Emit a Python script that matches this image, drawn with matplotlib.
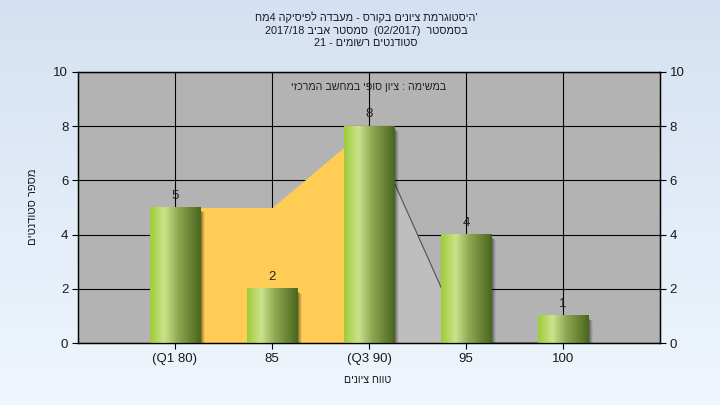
import re
import numpy as np
import matplotlib
matplotlib.use('Agg')
import matplotlib.pyplot as plt
from matplotlib.colors import LinearSegmentedColormap
from matplotlib.patches import Rectangle

# ---------------- data ----------------
categories = ['(Q1 80)', '85', '(Q3 90)', '95', '100']
counts = [5, 2, 8, 4, 1]
area_values = [5, 5, 8, 0, 0]          # background area series
iqr_end = 2                             # Q1..Q3 part drawn in yellow
yticks = [0, 2, 4, 6, 8, 10]
title_lines = [
    "'היסטוגרמת ציונים בקורס - מעבדה לפיסיקה 4מח",
    "בסמסטר  (02/2017)  סמסטר אביב 2017/18",
    "סטודנטים רשומים - 21",
]
note_text = "במשימה : ציון סופי במחשב המרכזי"
xlabel_text = "טווח ציונים"
ylabel_text = "מספר סטודנטים"

FAM = ['Liberation Sans', 'DejaVu Sans']
plt.rcParams['font.family'] = FAM

LTR_RUN = re.compile(r'[A-Za-z0-9]+(?:[/.:,][A-Za-z0-9]+)*')
MIRROR = {'(': ')', ')': '(', '[': ']', ']': '['}


def to_visual(s):
    """Very small bidi: RTL paragraph, keep LTR runs (numbers) intact."""
    tokens, pos = [], 0
    for m in LTR_RUN.finditer(s):
        tokens.extend(s[pos:m.start()])
        tokens.append(m.group())
        pos = m.end()
    tokens.extend(s[pos:])
    return ''.join(MIRROR.get(t, t) if len(t) == 1 else t for t in reversed(tokens))


W, H = 720, 405
fig = plt.figure(figsize=(W / 100, H / 100), dpi=100)

# background gradient
bg = fig.add_axes([0, 0, 1, 1], zorder=-10)
top_c = np.array([0.835, 0.882, 0.949])
bot_c = np.array([0.937, 0.965, 0.992])
t = np.linspace(0, 1, 256)[:, None]
grad = top_c[None, :] * (1 - t) + bot_c[None, :] * t
bg.imshow(grad[:, None, :].repeat(2, axis=1), aspect='auto', extent=[0, 1, 0, 1])
bg.set_axis_off()

L, R, T, B = 78, 660, 72, 343
ax = fig.add_axes([L / W, 1 - B / H, (R - L) / W, (B - T) / H])
ax.set_facecolor('#b3b3b3')
x = np.arange(len(categories))

# area series
ax.fill_between(x[:iqr_end + 1], area_values[:iqr_end + 1], 0,
                color='#ffcc55', lw=0, zorder=1)
ax.fill_between(x[iqr_end:], area_values[iqr_end:], 0,
                color='#bebebe', lw=0, zorder=1)
ax.plot(x[iqr_end:], area_values[iqr_end:], color='#505050', lw=0.8, zorder=1.1)

# bars: cylinder gradient + shadow
bw = 0.52
cmap = LinearSegmentedColormap.from_list('cyl', [
    (0.0, (0.62, 0.80, 0.22)),
    (0.28, (0.80, 0.89, 0.55)),
    (0.55, (0.56, 0.66, 0.32)),
    (1.0, (0.29, 0.40, 0.11)),
])
px_x = 6.0 / (R - L)
px_y = 10.0 / (B - T)
for xi, h in zip(x, counts):
    for k, a in enumerate([0.22, 0.18, 0.14, 0.10, 0.06]):
        off = (k + 1)
        ax.add_patch(Rectangle((xi - bw / 2 + off * px_x, -off * px_y * 0.6),
                               bw, h - 2 * px_y, color='black', alpha=a,
                               lw=0, zorder=2))
    ax.imshow(np.linspace(0, 1, 128)[None, :], cmap=cmap, aspect='auto',
              extent=[xi - bw / 2, xi + bw / 2, 0, h], interpolation='bilinear',
              zorder=3)
    ax.text(xi, h + 0.44, str(h), ha='center', va='center', fontsize=9.5,
            color='#222222', zorder=4)

ax.text(2, 9.46, to_visual(note_text), ha='center', va='center', fontsize=7.7,
        color='#222222', zorder=4)

ax.set_xlim(-1, 5)
ax.set_ylim(0, 10)
ax.set_xticks(x)
ax.set_xticklabels(categories)
ax.set_yticks(yticks)
ax.set_axisbelow(True)
ax.grid(True, color='black', lw=0.8)
for sp in ax.spines.values():
    sp.set_color('black')
    sp.set_linewidth(0.9)
ax.tick_params(direction='out', length=4, width=0.8, labelsize=9.5,
               labelcolor='#1a1a1a', pad=3)

ax2 = ax.twinx()
ax2.set_ylim(0, 10)
ax2.set_yticks(yticks)
ax2.tick_params(direction='out', length=4, width=0.8, labelsize=9.5,
                labelcolor='#1a1a1a', pad=3)
for sp in ax2.spines.values():
    sp.set_color('black')
    sp.set_linewidth(0.9)

# titles and axis labels
for yy, line in zip([17.5, 30.5, 43], title_lines):
    fig.text(366 / W, 1 - yy / H, to_visual(line), ha='center', va='center',
             fontsize=7.8, color='#1a1a2a')
fig.text(368 / W, 1 - 380 / H, to_visual(xlabel_text), ha='center', va='center',
         fontsize=7.6, color='#1a1a1a')
fig.text(33 / W, 1 - 207 / H, to_visual(ylabel_text), ha='center', va='center',
         rotation=90, fontsize=8, color='#1a1a1a')

fig.savefig('out.png', dpi=100)
